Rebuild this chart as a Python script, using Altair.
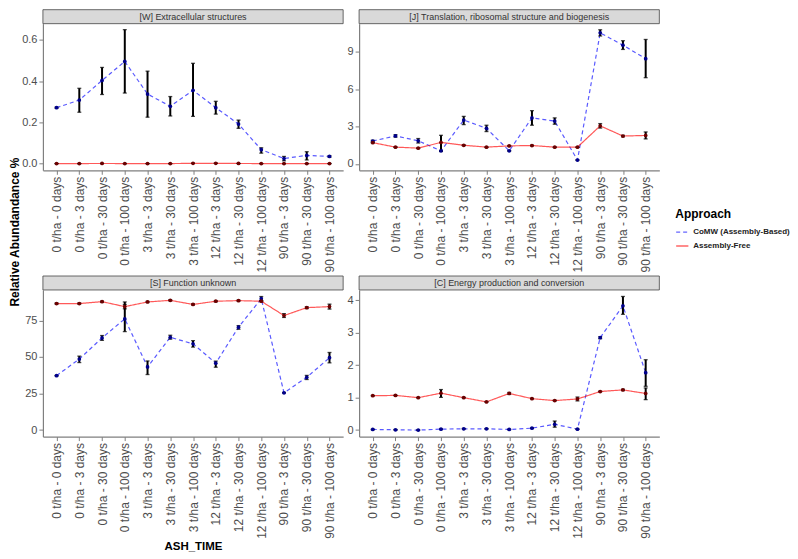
import altair as alt
import pandas as pd

cats = ["0 t/ha - 0 days", "0 t/ha - 3 days", "0 t/ha - 30 days", "0 t/ha - 100 days",
        "3 t/ha - 3 days", "3 t/ha - 30 days", "3 t/ha - 100 days",
        "12 t/ha - 3 days", "12 t/ha - 30 days", "12 t/ha - 100 days",
        "90 t/ha - 3 days", "90 t/ha - 30 days", "90 t/ha - 100 days"]
approaches = ["CoMW (Assembly-Based)", "Assembly-Free"]

# [W] Extracellular structures
w_blue = [0.271, 0.308, 0.403, 0.495, 0.337, 0.278, 0.355, 0.271, 0.192, 0.068, 0.025, 0.040, 0.035]
w_blue_lo = [0.268, 0.249, 0.335, 0.342, 0.225, 0.231, 0.229, 0.240, 0.171, 0.051, 0.014, 0.018, 0.031]
w_blue_hi = [0.274, 0.365, 0.466, 0.649, 0.448, 0.325, 0.486, 0.302, 0.211, 0.077, 0.035, 0.058, 0.039]
w_red = [0.0005, 0.0005, 0.001, 0.0005, 0.0005, 0.0005, 0.0015, 0.002, 0.001, 0.0005, 0.0005, 0.0005, 0.0005]
w_red_lo = w_red
w_red_hi = w_red

# [J] Translation, ribosomal structure and biogenesis
j_blue = [1.84, 2.25, 1.86, 1.05, 3.52, 2.86, 1.05, 3.70, 3.44, 0.31, 10.53, 9.54, 8.46]
j_blue_lo = [1.78, 2.15, 1.68, 1.02, 3.16, 2.60, 1.02, 3.11, 3.19, 0.28, 10.28, 9.20, 6.93]
j_blue_hi = [1.90, 2.35, 2.04, 1.08, 3.82, 3.11, 1.08, 4.28, 3.70, 0.34, 10.78, 9.90, 10.00]
j_red = [1.71, 1.35, 1.27, 1.73, 1.50, 1.35, 1.45, 1.48, 1.35, 1.35, 3.06, 2.24, 2.29]
j_red_lo = [1.68, 1.32, 1.24, 1.00, 1.47, 1.32, 1.42, 1.45, 1.32, 1.32, 2.88, 2.18, 2.01]
j_red_hi = [1.74, 1.38, 1.30, 2.30, 1.53, 1.38, 1.48, 1.51, 1.38, 1.38, 3.24, 2.30, 2.57]

# [S] Function unknown
s_blue = [37.2, 48.6, 63.1, 76.1, 43.2, 63.5, 59.0, 45.8, 70.4, 89.9, 25.5, 36.1, 49.5]
s_blue_lo = [37.0, 46.2, 61.4, 67.4, 38.0, 62.2, 56.8, 43.0, 69.0, 88.6, 25.3, 34.6, 46.0]
s_blue_hi = [37.4, 50.6, 64.7, 87.7, 47.3, 64.9, 61.2, 47.2, 71.5, 91.4, 25.7, 37.4, 53.1]
s_red = [86.6, 86.6, 87.9, 84.5, 87.7, 88.8, 86.0, 88.2, 88.6, 88.2, 78.4, 83.8, 84.5]
s_red_lo = [86.2, 86.2, 87.5, 83.0, 87.3, 88.4, 85.6, 87.8, 88.2, 87.8, 77.1, 83.2, 82.8]
s_red_hi = [87.0, 87.0, 88.3, 86.0, 88.1, 89.2, 86.4, 88.6, 89.0, 88.6, 79.7, 84.4, 86.2]

# [C] Energy production and conversion
c_blue = [0.02, 0.01, 0.00, 0.03, 0.04, 0.04, 0.02, 0.06, 0.18, 0.03, 2.85, 3.83, 1.77]
c_blue_lo = [0.01, 0.00, -0.01, 0.02, 0.03, 0.03, 0.01, 0.05, 0.09, 0.02, 2.82, 3.57, 1.35]
c_blue_hi = [0.03, 0.02, 0.01, 0.04, 0.05, 0.05, 0.03, 0.07, 0.28, 0.04, 2.88, 4.12, 2.17]
c_red = [1.06, 1.07, 1.00, 1.14, 1.00, 0.87, 1.13, 0.97, 0.91, 0.96, 1.19, 1.24, 1.13]
c_red_lo = [1.05, 1.06, 0.99, 1.01, 0.99, 0.86, 1.10, 0.96, 0.90, 0.90, 1.18, 1.22, 0.94]
c_red_hi = [1.07, 1.08, 1.01, 1.25, 1.01, 0.88, 1.16, 0.98, 0.92, 1.02, 1.20, 1.26, 1.30]

y_title = "Relative Abundandance %"
x_title = "ASH_TIME"

FONT = "Liberation Sans"
PW = 301
PH = 147


def make_df(bm, blo, bhi, rm, rlo, rhi):
    rows = []
    for i, c in enumerate(cats):
        rows.append({"ASH_TIME": c, "Approach": approaches[0], "value": bm[i], "lo": blo[i], "hi": bhi[i]})
        rows.append({"ASH_TIME": c, "Approach": approaches[1], "value": rm[i], "lo": rlo[i], "hi": rhi[i]})
    return pd.DataFrame(rows)


legend = alt.Legend(title="Approach", orient="none", legendX=634, legendY=186,
                    symbolType="stroke", symbolStrokeWidth=1.5, symbolSize=150,
                    titleFontSize=12, titleFont=FONT, titleFontWeight="bold", titleColor="black",
                    titlePadding=4,
                    labelFontSize=8, labelFont=FONT, labelFontWeight="bold", labelColor="#222222",
                    symbolOpacity=0.6, rowPadding=3)


def panel(title, df, domain, ticks, fmt, xtitle=None, ytitle=False):
    xax = alt.Axis(labelAngle=-90, labelFontSize=12, labelColor="#4d4d4d", labelFont=FONT,
                   tickColor="#7f7f7f", tickSize=4, domainColor="#7f7f7f", domainWidth=1.2,
                   labelPadding=2, title=xtitle, titleFontSize=11.5, titleFont=FONT,
                   titleFontWeight="bold", titleColor="black", titlePadding=2)
    x = alt.X("ASH_TIME:N", sort=cats, scale=alt.Scale(type="point", padding=0.6), axis=xax)
    yax = alt.Axis(values=ticks, format=fmt, title=None, labelFontSize=11, labelColor="#4d4d4d",
                   labelFont=FONT, tickColor="#7f7f7f", tickSize=4, domainColor="#7f7f7f",
                   domainWidth=1.2, grid=False, labelPadding=2)
    ysc = alt.Scale(domain=domain, nice=False, zero=False)
    base = alt.Chart(df)
    line = base.mark_line(strokeWidth=1.2, opacity=0.65).encode(
        x=x,
        y=alt.Y("value:Q", scale=ysc, axis=yax),
        color=alt.Color("Approach:N", scale=alt.Scale(domain=approaches, range=["#0000ff", "#ff0000"]), legend=legend),
        strokeDash=alt.StrokeDash("Approach:N", scale=alt.Scale(domain=approaches, range=[[4, 3], [1, 0]]), legend=legend),
    )
    rule = base.mark_rule(color="black", strokeWidth=2).encode(
        x=x, y=alt.Y("lo:Q", scale=ysc, axis=yax), y2="hi:Q")
    cap_lo = base.mark_tick(color="black", orient="horizontal", size=4, thickness=1.3).encode(
        x=x, y=alt.Y("lo:Q", scale=ysc, axis=yax))
    cap_hi = base.mark_tick(color="black", orient="horizontal", size=4, thickness=1.3).encode(
        x=x, y=alt.Y("hi:Q", scale=ysc, axis=yax))
    pts = base.mark_point(filled=True, size=14, opacity=1).encode(
        x=x, y=alt.Y("value:Q", scale=ysc, axis=yax),
        fill=alt.Fill("Approach:N", scale=alt.Scale(domain=approaches, range=["#00008b", "#6b0000"]), legend=None))
    sdata = alt.Data(values=[{"t": title}])
    strip = alt.Chart(sdata).mark_rect(fill="#d9d9d9", stroke="#444444", strokeWidth=0.8).encode(
        x=alt.value(0), x2=alt.value(PW), y=alt.value(-14), y2=alt.value(0))
    stext = alt.Chart(sdata).mark_text(fontSize=9, color="#333333", font=FONT).encode(
        x=alt.value(PW / 2), y=alt.value(-7), text="t:N")
    layers = [line, rule, cap_lo, cap_hi, pts, strip, stext]
    if ytitle:
        ytext = alt.Chart(alt.Data(values=[{"t": y_title}])).mark_text(
            fontSize=12, fontWeight="bold", color="black", font=FONT, angle=270).encode(
            x=alt.value(-28), y=alt.value(-58), text="t:N")
        layers.append(ytext)
    return alt.layer(*layers).properties(width=PW, height=PH)


pW = panel("[W] Extracellular structures", make_df(w_blue, w_blue_lo, w_blue_hi, w_red, w_red_lo, w_red_hi),
           [-0.032, 0.678], [0, 0.2, 0.4, 0.6], ".1f")
pJ = panel("[J] Translation, ribosomal structure and biogenesis",
           make_df(j_blue, j_blue_lo, j_blue_hi, j_red, j_red_lo, j_red_hi),
           [-0.51, 11.27], [0, 3, 6, 9], "d")
pS = panel("[S] Function unknown", make_df(s_blue, s_blue_lo, s_blue_hi, s_red, s_red_lo, s_red_hi),
           [-4.5, 95.9], [0, 25, 50, 75], "d", xtitle=x_title, ytitle=True)
pC = panel("[C] Energy production and conversion",
           make_df(c_blue, c_blue_lo, c_blue_hi, c_red, c_red_lo, c_red_hi),
           [-0.2, 4.32], [0, 1, 2, 3, 4], "d")

chart = alt.concat(pW, pJ, pS, pC, columns=2, bounds="flush",
                   spacing={"row": 120, "column": 16}).resolve_scale(
    x="independent", y="independent"
).properties(
    padding=0,
).configure_view(stroke=None).configure_axis(grid=False)

chart.save("out.html", embed_options={"renderer": "svg", "actions": False})
